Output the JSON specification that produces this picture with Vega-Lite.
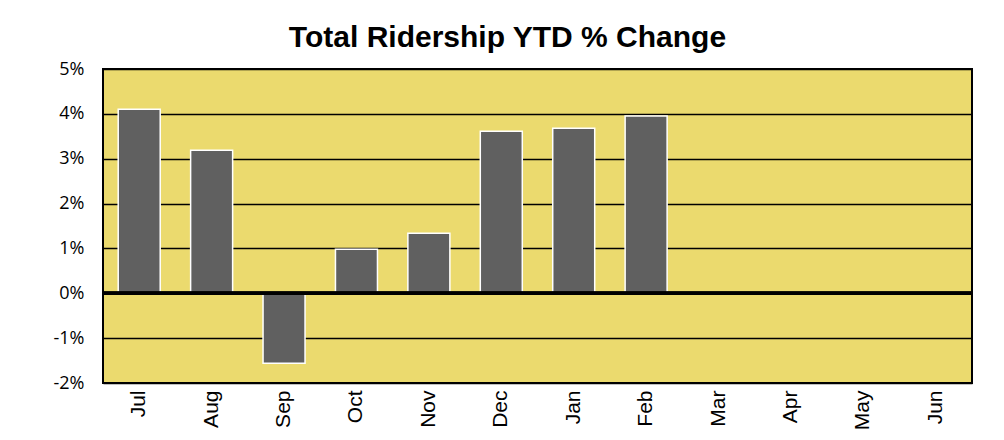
{
  "$schema": "https://vega.github.io/schema/vega-lite/v6.json",
  "autosize": "none",
  "width": 869,
  "height": 314,
  "padding": {"left": 103, "top": 69, "right": 32, "bottom": 57},
  "background": "white",
  "title": {
    "text": "Total Ridership YTD % Change",
    "font": "Liberation Sans",
    "fontSize": 30,
    "fontWeight": "bold",
    "color": "black",
    "anchor": "middle",
    "dx": -30,
    "offset": 7
  },
  "data": {
    "values": [
      {"month": "Jul", "change": 0.0410},
      {"month": "Aug", "change": 0.0319},
      {"month": "Sep", "change": -0.0156},
      {"month": "Oct", "change": 0.0098},
      {"month": "Nov", "change": 0.0134},
      {"month": "Dec", "change": 0.0361},
      {"month": "Jan", "change": 0.0368},
      {"month": "Feb", "change": 0.0395},
      {"month": "Mar", "change": null},
      {"month": "Apr", "change": null},
      {"month": "May", "change": null},
      {"month": "Jun", "change": null}
    ]
  },
  "config": {
    "view": {"fill": "#EBDA6E", "stroke": "black", "strokeWidth": 2}
  },
  "encoding": {
    "x": {
      "field": "month",
      "type": "nominal",
      "sort": null,
      "scale": {"domain": ["Jul", "Aug", "Sep", "Oct", "Nov", "Dec", "Jan", "Feb", "Mar", "Apr", "May", "Jun"], "paddingInner": 0.42, "paddingOuter": 0.21},
      "axis": {"title": null, "labelAngle": -90, "ticks": false, "domain": false, "labelPadding": 7, "labelBaseline": "middle", "labelAlign": "right", "labelFont": "Liberation Sans", "labelFontSize": 21, "labelColor": "black"}
    },
    "y": {
      "field": "change",
      "type": "quantitative",
      "scale": {"domain": [-0.02, 0.05], "nice": false},
      "axis": {"title": null, "values": [-0.02, -0.01, 0, 0.01, 0.02, 0.03, 0.04, 0.05], "labelExpr": "replace(format(datum.value, '.0%'), '\u2212', '-')", "labelOverlap": false, "labelFont": "Open Sans", "labelFontSize": 18, "labelColor": "black", "ticks": false, "domain": false, "labelPadding": 19, "gridColor": "black", "gridWidth": 1.5, "gridOpacity": 1}
    }
  },
  "layer": [
    {
      "mark": {"type": "bar", "color": "#606060", "stroke": "white", "strokeWidth": 1.5}
    },
    {
      "mark": {"type": "rule", "color": "black", "strokeWidth": 3},
      "encoding": {"y": {"datum": 0, "type": "quantitative"}, "x": null}
    }
  ]
}
